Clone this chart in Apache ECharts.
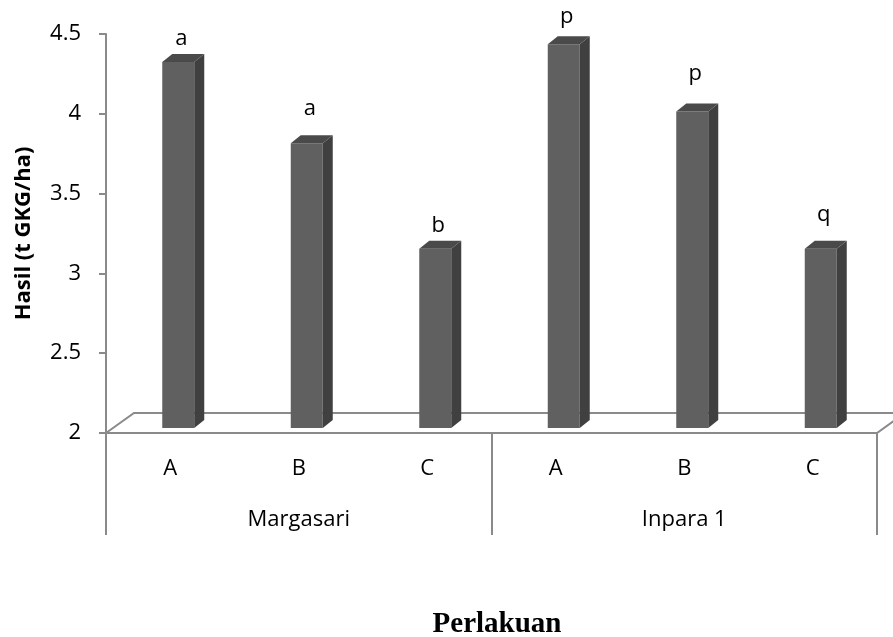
<!DOCTYPE html>
<html>
<head>
<meta charset="utf-8">
<script src="https://cdn.jsdelivr.net/npm/echarts@6/dist/echarts.min.js"></script>
<style>
  html, body { margin: 0; padding: 0; background: #fff; }
  #chart { width: 893px; height: 637px; }
</style>
</head>
<body>
<div id="chart"></div>
<script>
// data
const treatments = ["A", "B", "C", "A", "B", "C"];
const varieties = ["Margasari", "Inpara 1"];
const yields = [4.30, 3.79, 3.13, 4.41, 3.99, 3.13];
const letters = ["a", "a", "b", "p", "p", "q"];

// how far each letter sits above its bar top (px), the letters are hand placed
const letterLift = [15, 27, 15, 20, 30, 26];

const gray = "#8a8a8a";
const font = "Open Sans";

const chart = echarts.init(document.getElementById("chart"));

const option = {
  animation: false,
  textStyle: { fontFamily: font },
  grid: { left: 106, right: 16, top: 34, bottom: 204, outerBoundsMode: "none" },
  xAxis: [
    {
      type: "category",
      data: treatments,
      axisLine: { lineStyle: { color: gray, width: 2 } },
      axisTick: { show: false },
      axisLabel: { fontSize: 22, color: "#000", margin: 25, fontFamily: font },
    },
    {
      type: "category",
      data: varieties,
      position: "bottom",
      axisLine: { show: false },
      axisTick: {
        show: true,
        interval: 0,
        length: 102,
        lineStyle: { color: gray, width: 2 },
      },
      axisLabel: { fontSize: 22, color: "#000", margin: 76, fontFamily: font },
      name: "Perlakuan",
      nameLocation: "middle",
      nameGap: 177,
      nameTextStyle: {
        fontFamily: "Liberation Serif",
        fontWeight: "bold",
        fontSize: 29,
        color: "#000",
        padding: [0, 0, 0, 11],
      },
    },
  ],
  yAxis: {
    type: "value",
    min: 2,
    max: 4.5,
    interval: 0.5,
    splitLine: { show: false },
    axisLine: { show: true, lineStyle: { color: gray, width: 2 } },
    axisTick: { show: true, length: 7, lineStyle: { color: gray, width: 2 } },
    axisLabel: { fontSize: 22, color: "#000", margin: 25, fontFamily: font },
    name: "Hasil (t GKG/ha)",
    nameLocation: "middle",
    nameRotate: 90,
    nameGap: 71,
    nameTextStyle: { fontSize: 22, fontWeight: "bold", color: "#000", fontFamily: font },
  },
  series: [
    {
      // the 3d floor
      type: "custom",
      xAxisIndex: 0,
      data: [[0, 2]],
      z: 1,
      renderItem: function (params, api) {
        const cs = params.coordSys;
        const x0 = cs.x;
        const x1 = cs.x + cs.width;
        const y0 = cs.y + cs.height;
        return {
          type: "polygon",
          shape: {
            points: [
              [x0, y0],
              [x0 + 28, y0 - 20],
              [x1 + 28, y0 - 20],
              [x1, y0],
            ],
          },
          style: { fill: "#fff", stroke: gray, lineWidth: 2 },
        };
      },
    },
    {
      type: "custom",
      xAxisIndex: 0,
      z: 3,
      data: yields.map((v, i) => [i, v]),
      renderItem: function (params, api) {
        const i = api.value(0);
        const v = api.value(1);
        const p = api.coord([i, v]);
        const base = api.coord([i, 2])[1];
        const cx = p[0];
        const fx = cx - 8;
        const fw = 32;
        const dx = 10;
        const dy = 8;
        const top = p[1] - 4;
        const bot = base - 5;
        return {
          type: "group",
          children: [
            {
              type: "rect",
              shape: { x: fx, y: top, width: fw, height: bot - top },
              style: { fill: "#606060" },
            },
            {
              type: "polygon",
              shape: {
                points: [
                  [fx + fw, top],
                  [fx + fw + dx, top - dy],
                  [fx + fw + dx, bot - dy],
                  [fx + fw, bot],
                ],
              },
              style: { fill: "#404040" },
            },
            {
              type: "polygon",
              shape: {
                points: [
                  [fx, top],
                  [fx + dx, top - dy],
                  [fx + fw + dx, top - dy],
                  [fx + fw, top],
                ],
              },
              style: { fill: "#4a4a4a" },
            },
            {
              type: "text",
              x: cx + 11,
              y: top - dy - letterLift[params.dataIndex],
              style: {
                text: letters[params.dataIndex],
                fontSize: 22,
                fontFamily: font,
                fill: "#000",
                align: "center",
                verticalAlign: "middle",
              },
            },
          ],
        };
      },
    },
  ],
};

chart.setOption(option);
window.addEventListener("resize", () => chart.resize());
</script>
</body>
</html>
